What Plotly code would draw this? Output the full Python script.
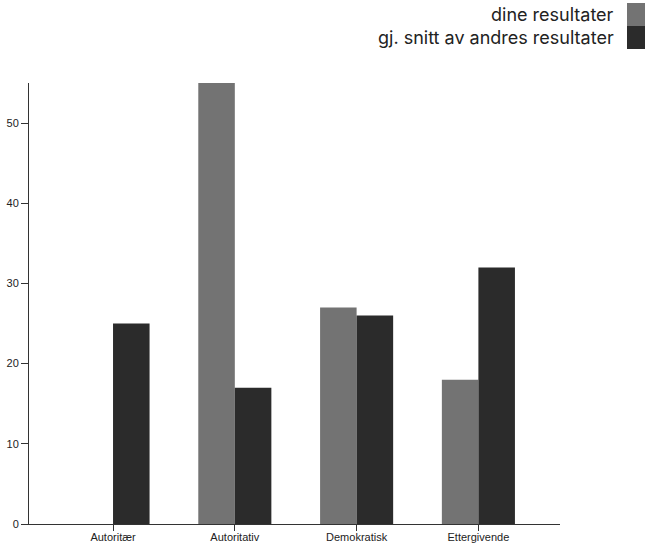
import plotly.graph_objects as go

categories = ["Autoritær", "Autoritativ", "Demokratisk", "Ettergivende"]
dine = [0, 55, 27, 18]
andres = [25, 17, 26, 32]
series_names = ["dine resultater", "gj. snitt av andres resultater"]
colors = ["#737373", "#2b2b2b"]

W, H = 645, 548
L, R, T, B = 29, 85, 83, 24
plot_w = W - L - R
plot_h = H - T - B

def px_x(p):
    return (p - L) / plot_w

def px_y(p):
    return 1 - (p - T) / plot_h

fig = go.Figure()
fig.add_trace(go.Bar(x=categories, y=dine, name=series_names[0],
                     marker=dict(color=colors[0], line=dict(width=0)), showlegend=False))
fig.add_trace(go.Bar(x=categories, y=andres, name=series_names[1],
                     marker=dict(color=colors[1], line=dict(width=0)), showlegend=False))

axis_font = dict(family="Arial, Liberation Sans, sans-serif", size=11, color="#222")
fig.update_layout(
    width=W, height=H,
    margin=dict(l=L, r=R, t=T, b=B, pad=0, autoexpand=False),
    paper_bgcolor="white", plot_bgcolor="white",
    barmode="group", bargap=0.40, bargroupgap=0,
    xaxis=dict(range=[-0.69, 3.67], showgrid=False, zeroline=False, automargin=False,
               showline=True, linecolor="#333", linewidth=1, ticklabelstandoff=-3,
               ticks="outside", ticklen=6, tickcolor="#333", tickfont=axis_font),
    yaxis=dict(range=[0, 55], showgrid=False, zeroline=False, automargin=False,
               showline=True, linecolor="#333", linewidth=1,
               tickvals=[0, 10, 20, 30, 40, 50],
               ticks="outside", ticklen=7, tickcolor="#333", tickfont=axis_font),
)

legend_font = dict(family="Inter, sans-serif", size=18, color="#222")
sw_rows = [(3, 26), (26, 49)]
for i, name in enumerate(series_names):
    y0, y1 = sw_rows[i]
    fig.add_shape(type="rect", xref="paper", yref="paper",
                  x0=px_x(627), x1=px_x(645), y0=px_y(y1), y1=px_y(y0),
                  fillcolor=colors[i], line=dict(width=0))
    fig.add_annotation(xref="paper", yref="paper", x=px_x(616), y=px_y((y0 + y1) / 2),
                       text=name, showarrow=False, xanchor="right", yanchor="middle",
                       font=legend_font)

fig.write_html("out.html", config={"displayModeBar": False},
               post_script="document.body.style.margin='0';document.body.style.overflow='hidden';")
